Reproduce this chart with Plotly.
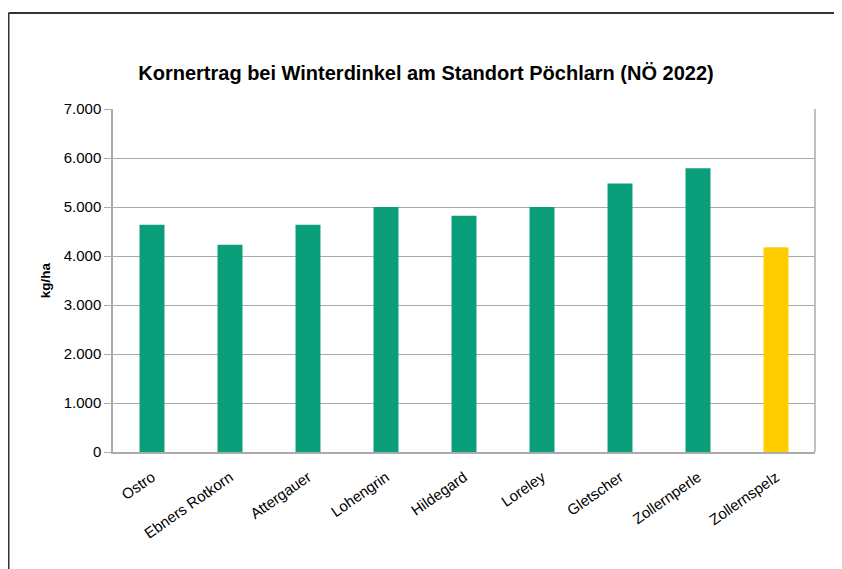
import plotly.graph_objects as go

categories = ["Ostro", "Ebners Rotkorn", "Attergauer", "Lohengrin", "Hildegard",
              "Loreley", "Gletscher", "Zollernperle", "Zollernspelz"]
values = [4640, 4230, 4640, 5000, 4820, 5000, 5480, 5790, 4180]
bar_colors = ["#0b9e7b"] * 8 + ["#ffcc00"]
tick_vals = [0, 1000, 2000, 3000, 4000, 5000, 6000, 7000]
tick_text = ["0", "1.000", "2.000", "3.000", "4.000", "5.000", "6.000", "7.000"]

OFF = 8  # page body margin
W, H = 842 - OFF, 569 - OFF
L, T = 113 - OFF, 109 - OFF
R = W - (815 - OFF)
B = H - (452 - OFF)
pw, ph = W - L - R, H - T - B

def px(x):  # screen px -> paper
    return (x - OFF - L) / pw

def py(y):
    return (H - B - (y - OFF)) / ph

fig = go.Figure(go.Bar(
    x=categories, y=values,
    marker=dict(color=bar_colors, line=dict(width=0)),
    width=0.32,
))

fig.update_layout(
    width=W, height=H,
    margin=dict(l=L, r=R, t=T, b=B),
    paper_bgcolor="white", plot_bgcolor="white",
    font=dict(family="Liberation Sans, Arial, sans-serif", color="#000000", size=15),
    showlegend=False,
    title=dict(text="<b>Kornertrag bei Winterdinkel am Standort Pöchlarn (NÖ 2022)</b>",
               x=(426 - OFF) / W, xanchor="center", y=1 - (73 - OFF) / H, yanchor="middle",
               font=dict(size=20, color="#000000")),
    xaxis=dict(
        showgrid=False, showline=True, linecolor="#aaaaaa", linewidth=1.5,
        mirror=False, ticks="", tickangle=-35, tickfont=dict(size=15),
        ticklabelstandoff=9,
        range=[-0.5, 8.5],
    ),
    yaxis=dict(
        range=[0, 7000], tickvals=tick_vals, ticktext=tick_text,
        showgrid=True, gridcolor="#aaaaaa", gridwidth=1.2,
        showline=True, linecolor="#aaaaaa", linewidth=1.5,
        ticks="outside", ticklen=7, tickcolor="#aaaaaa",
        tickfont=dict(size=15), zeroline=False,
        title=dict(text="<b>kg/ha</b>", font=dict(size=13.5), standoff=10),
    ),
    shapes=[
        dict(type="line", xref="paper", yref="paper", x0=1, x1=1, y0=0, y1=1,
             line=dict(color="#aaaaaa", width=1.5)),
        dict(type="line", xref="paper", yref="paper",
             x0=px(8.5), x1=px(850), y0=py(13), y1=py(13),
             line=dict(color="#333333", width=2)),
        dict(type="line", xref="paper", yref="paper",
             x0=px(8.5), x1=px(8.5), y0=py(13), y1=py(575),
             line=dict(color="#333333", width=2)),
    ],
)

fig.write_html("out.html")
